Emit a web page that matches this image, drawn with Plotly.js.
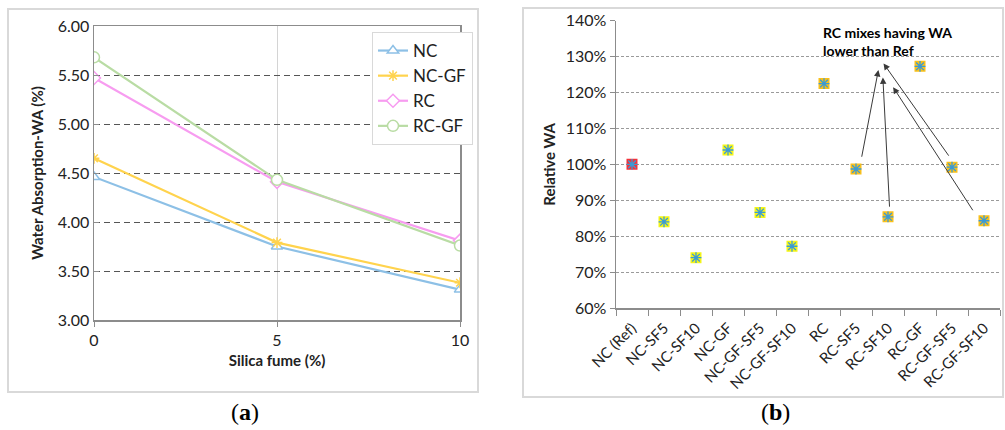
<!DOCTYPE html>
<html>
<head>
<meta charset="utf-8">
<script src="https://cdn.plot.ly/plotly-3.0.1.min.js"></script>
<style>html,body{margin:0;padding:0;background:#fff;}#chart{width:1005px;height:430px;}</style>
</head>
<body>
<div id="chart"></div>
<script>
// ---- Chart (a) data ----
const silicaFume = [0, 5, 10];
const waNC   = [4.46, 3.75, 3.31];
const waNCGF = [4.65, 3.79, 3.38];
const waRC   = [5.47, 4.41, 3.81];
const waRCGF = [5.68, 4.43, 3.76];

// ---- Chart (b) data ----
const mixes = ['NC (Ref)', 'NC-SF5', 'NC-SF10', 'NC-GF', 'NC-GF-SF5', 'NC-GF-SF10',
               'RC', 'RC-SF5', 'RC-SF10', 'RC-GF', 'RC-GF-SF5', 'RC-GF-SF10'];
const relWA = [100, 84.0, 74.0, 104.0, 86.6, 77.2, 122.5, 98.7, 85.4, 127.3, 99.2, 84.3];

const yTicksA = [3.0, 3.5, 4.0, 4.5, 5.0, 5.5, 6.0];
const yTicksB = [60, 70, 80, 90, 100, 110, 120, 130, 140];

// arrows of the annotation in (b): [headX, headY, tailX, tailY] in axis units
const arrowSpec = [
  [7.70, 126.3, 7.17, 101.7],
  [7.84, 124.2, 8.05, 87.8],
  [7.86, 128.1, 9.93, 102.0],
  [8.16, 121.5, 10.68, 86.8]
];

const FONT = 'Lato, "Open Sans", sans-serif';
const W = 1005, H = 430;
const px = v => v / W;
const py = v => 1 - v / H;

function lineTrace(name, y, color, symbol, size) {
  return {
    x: silicaFume, y: y, name: name, type: 'scatter', mode: 'lines+markers',
    xaxis: 'x', yaxis: 'y',
    line: {color: color, width: 2.2},
    marker: {symbol: symbol, size: size,
             color: symbol === 'asterisk-open' ? color : 'white',
             line: {color: color, width: 1.5}}
  };
}

const traces = [
  lineTrace('NC', waNC, '#8dc0e6', 'triangle-up', 10),
  lineTrace('NC-GF', waNCGF, '#ffd34d', 'asterisk-open', 9),
  lineTrace('RC', waRC, '#f79cf0', 'diamond', 10),
  lineTrace('RC-GF', waRCGF, '#b9dca4', 'circle', 11)
];

const sqColors = mixes.map(m => m === 'NC (Ref)' ? '#f2323a' : (m.startsWith('NC') ? '#f5f516' : '#f9c01a'));
traces.push({
  x: mixes, y: relWA, type: 'scatter', mode: 'markers', xaxis: 'x2', yaxis: 'y2',
  showlegend: false, hoverinfo: 'skip',
  marker: {symbol: 'square', size: 11, color: sqColors, line: {width: 0}}
});
traces.push({
  x: mixes, y: relWA, type: 'scatter', mode: 'markers', xaxis: 'x2', yaxis: 'y2',
  showlegend: false,
  marker: {symbol: 'asterisk-open', size: 9, color: '#3a9ad6', line: {color: '#3a9ad6', width: 1.3}}
});

const annotations = arrowSpec.map(a => ({
  xref: 'x2', yref: 'y2', axref: 'x2', ayref: 'y2',
  x: a[0], y: a[1], ax: a[2], ay: a[3], text: '',
  showarrow: true, arrowhead: 2, arrowsize: 1.3, arrowwidth: 1, arrowcolor: '#3a3a3a'
}));
annotations.push({
  xref: 'paper', yref: 'paper', x: px(821), y: py(41), xanchor: 'left', yanchor: 'middle',
  align: 'left', showarrow: false,
  text: '<b>RC mixes having WA<br>lower than Ref</b>',
  font: {family: FONT, size: 14, color: '#000'}
});
annotations.push({
  xref: 'paper', yref: 'paper', x: px(245), y: py(412), xanchor: 'center', yanchor: 'middle',
  showarrow: false, text: '(<b>a</b>)', font: {family: '"Liberation Serif", serif', size: 24, color: '#000'}
});
annotations.push({
  xref: 'paper', yref: 'paper', x: px(775), y: py(412), xanchor: 'center', yanchor: 'middle',
  showarrow: false, text: '(<b>b</b>)', font: {family: '"Liberation Serif", serif', size: 24, color: '#000'}
});

const layout = {
  width: W, height: H,
  margin: {l: 0, r: 0, t: 0, b: 0},
  paper_bgcolor: 'white', plot_bgcolor: 'white',
  font: {family: FONT, size: 16, color: '#222'},
  showlegend: true,
  legend: {
    x: px(372), y: py(32), xanchor: 'left', yanchor: 'top',
    bgcolor: 'white', bordercolor: '#d9d9d9', borderwidth: 1,
    font: {family: FONT, size: 17, color: '#222'},
    itemwidth: 30, tracegroupgap: 4, traceorder: 'normal'
  },
  xaxis: {
    domain: [px(94), px(460)], anchor: 'y', range: [0, 10],
    tickvals: silicaFume, ticktext: silicaFume.map(String),
    showgrid: true, gridcolor: '#d4d4d4', gridwidth: 1,
    showline: true, linecolor: '#8c8c8c', linewidth: 1.5, mirror: true,
    ticks: 'outside', ticklen: 5, tickcolor: '#8c8c8c',
    zeroline: false,
    tickfont: {family: FONT, size: 16, color: '#222'},
    title: {text: '<b>Silica fume (%)</b>', font: {family: FONT, size: 15, color: '#222'}, standoff: 8}
  },
  yaxis: {
    domain: [py(320), py(26)], anchor: 'x', range: [3, 6],
    tickvals: yTicksA, ticktext: yTicksA.map(v => v.toFixed(2)),
    showgrid: true, gridcolor: '#555', griddash: '6px,4px', gridwidth: 1,
    showline: true, linecolor: '#8c8c8c', linewidth: 1.5, mirror: true,
    ticks: 'inside', ticklen: 5, tickcolor: '#8c8c8c',
    zeroline: false,
    tickfont: {family: FONT, size: 16, color: '#222'},
    title: {text: '<b>Water Absorption-WA (%)</b>', font: {family: FONT, size: 15, color: '#222'}, standoff: 10}
  },
  xaxis2: {
    domain: [px(616), px(1000)], anchor: 'y2', type: 'category',
    categoryorder: 'array', categoryarray: mixes, range: [-0.5, 11.5],
    showgrid: false, showline: true, linecolor: '#8c8c8c', linewidth: 1.5,
    ticks: 'outside', ticklen: 6, tickcolor: '#8c8c8c', tickson: 'boundaries',
    tickangle: -45, ticklabelstandoff: 4,
    tickfont: {family: FONT, size: 15, color: '#222'}
  },
  yaxis2: {
    domain: [py(308), py(20.7)], anchor: 'x2', range: [60, 140],
    tickvals: yTicksB, ticktext: yTicksB.map(v => v + '%'),
    showgrid: true, gridcolor: '#9a9a9a', griddash: '3px,2px', gridwidth: 1,
    showline: true, linecolor: '#8c8c8c', linewidth: 1.5,
    ticks: 'outside', ticklen: 5, tickcolor: '#8c8c8c',
    zeroline: false,
    tickfont: {family: FONT, size: 16, color: '#222'},
    title: {text: '<b>Relative WA</b>', font: {family: FONT, size: 15, color: '#222'}, standoff: 6}
  },
  shapes: [
    {type: 'rect', xref: 'paper', yref: 'paper', x0: px(8), x1: px(478), y0: py(392), y1: py(9),
     line: {color: '#d9d9d9', width: 2}, fillcolor: 'rgba(0,0,0,0)', layer: 'below'},
    {type: 'rect', xref: 'paper', yref: 'paper', x0: px(523), x1: px(1003), y0: py(397), y1: py(8),
     line: {color: '#d9d9d9', width: 2}, fillcolor: 'rgba(0,0,0,0)', layer: 'below'}
  ],
  annotations: annotations
};

Plotly.newPlot('chart', traces, layout, {displayModeBar: false, staticPlot: true});
</script>
</body>
</html>
